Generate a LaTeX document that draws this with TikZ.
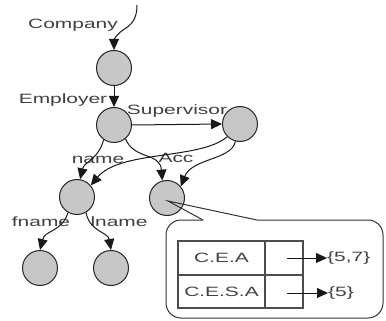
\documentclass[tikz,border=0pt]{standalone}
\usepackage{fontspec}
\setmainfont{Liberation Sans}
\usepackage{graphicx}
\usetikzlibrary{arrows.meta}
\newcommand{\wtext}[1]{\scalebox{1.55}[1]{#1}}
\begin{document}
\begin{tikzpicture}[x=1pt,y=-1pt,
  vtx/.style={circle,draw=black!85,fill=black!22,line width=1pt,minimum size=35pt,inner sep=0pt},
  edge/.style={draw=black!90,line width=1pt,-{Triangle[length=11pt,width=10pt]}},
  lbl/.style={font=\fontsize{13.5}{13.5}\selectfont,text=black!75,inner sep=0pt},
  tbl/.style={draw=black!70,line width=1.6pt},
  callout/.style={draw=black!80,line width=1pt}]
\useasboundingbox (0,0) rectangle (386,321);
% vertices
\node[vtx] (n1) at (114,68) {};
\node[vtx] (n2) at (114,125) {};
\node[vtx] (n3) at (240,124) {};
\node[vtx] (n4) at (77,197) {};
\node[vtx] (n5) at (167,198) {};
\node[vtx] (n6) at (40,268) {};
\node[vtx] (n7) at (111,268) {};
% labels
\node[lbl] (lc) at (73,25) {\wtext{Company}};
\node[lbl] (le) at (63,100) {\wtext{Employer}};
\node[lbl] (ls) at (177,111) {\wtext{Supervisor}};
\node[lbl] (ln) at (98,160) {\wtext{name}};
\node[lbl] (la) at (176,158) {\wtext{Acc}};
\node[lbl] (lf) at (41,222) {\wtext{fname}};
\node[lbl] (ll) at (119,222) {\wtext{lname}};
% edges
\coordinate (top) at (137,5);
\draw[edge] (top) .. controls (137,20) and (131,25) .. (123,30) .. controls (116,35) and (114,40) .. (n1.north);
\draw[edge] (n1) -- (n2);
\draw[edge] (n2.east) -- (n3.west);
\draw[edge] (n2.235) .. controls (98,160) and (84,162) .. (n4.80);
\draw[edge] (n2.-50) .. controls (134,160) and (160,152) .. (n5.105);
\draw[edge] (n3.225) .. controls (200,160) and (120,150) .. (n4.40);
\draw[edge] (n3.255) .. controls (232,160) and (192,158) .. (n5.40);
\draw[edge] (n4.240) .. controls (62,232) and (45,230) .. (n6.north);
\draw[edge] (n4.-60) .. controls (90,232) and (108,232) .. (n7.north);
% callout
\coordinate (tip) at (168,201);
\coordinate (cl) at (203,220);
\coordinate (cr) at (257,220);
\draw[callout,rounded corners=15pt] (cr) -- (383,220) -- (383,318) -- (166,318) -- (166,220) -- (cl);
\draw[callout] (cl) -- (tip) -- (cr);
% table
\draw[tbl] (178,241) rectangle (303,308);
\draw[tbl] (178,275) -- (303,275);
\draw[tbl] (265,241) -- (265,308);
\node[lbl] (c1) at (221.5,258) {\wtext{C.E.A}};
\node[lbl] (c2) at (221.5,292) {\wtext{C.E.S.A}};
\node[lbl,anchor=west] (v1) at (327,258) {\wtext{\{5,7\}}};
\node[lbl,anchor=west] (v2) at (328,293) {\wtext{\{5\}}};
\coordinate (a1) at (287,258);
\coordinate (a2) at (287,293);
\draw[edge] (a1) -- (v1.west);
\draw[edge] (a2) -- (v2.west);
\end{tikzpicture}
\end{document}
